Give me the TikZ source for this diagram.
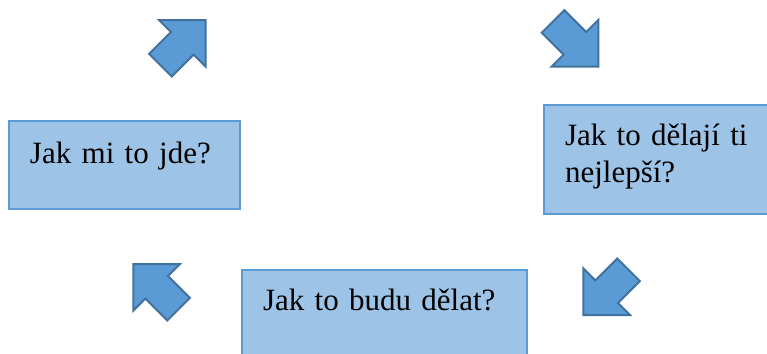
\documentclass[tikz,border=0pt]{standalone}
\usepackage{fontspec}
\setmainfont{Liberation Serif}
\usepackage{tikz}
\usetikzlibrary{shapes.arrows}
\definecolor{boxfill}{HTML}{9DC3E6}
\definecolor{boxline}{HTML}{5B9BD5}
\definecolor{arrowfill}{HTML}{5B9BD5}
\definecolor{arrowline}{HTML}{41719C}
\tikzstyle{box} = [rectangle, draw=boxline, fill=boxfill, line width=1pt, anchor=north west, align=left, inner xsep=10.5pt, inner ysep=0pt, outer sep=0pt, font=\fontsize{15.5}{18.5}\selectfont, text height=20pt]
\tikzstyle{cyclearrow} = [single arrow, draw=arrowline, fill=arrowfill, line width=1pt, single arrow tip angle=90, single arrow head extend=8.5pt, minimum height=32pt, minimum width=32pt, inner xsep=0pt, inner ysep=7.5pt, outer sep=0pt, anchor=tip]

\begin{document}
\begin{tikzpicture}[x=0.5pt, y=-0.5pt]
		\useasboundingbox (0,0) rectangle (767,354);
		\clip (0,0) rectangle (767,354);
		% Place nodes
		\node [box, text width=94.5pt, text height=21pt, text depth=23pt] (howami) at (9,121) {Jak mi to jde?};
		\node [box, text width=95.5pt, text depth=34.5pt] (howbest) at (544,105) {Jak to dělají ti\\nejlepší?};
		\node [box, text width=121.5pt, text depth=24pt] (howdo) at (242,270) {Jak to budu dělat?};
		% Draw arrows
		\node [cyclearrow, rotate=45] (upright) at (205.7,20) {};
		\node [cyclearrow, rotate=-45] (downright) at (598.3,66.7) {};
		\node [cyclearrow, rotate=-135] (downleft) at (583.3,315) {};
		\node [cyclearrow, rotate=135] (upleft) at (133.3,264) {};
	\end{tikzpicture}
\end{document}
